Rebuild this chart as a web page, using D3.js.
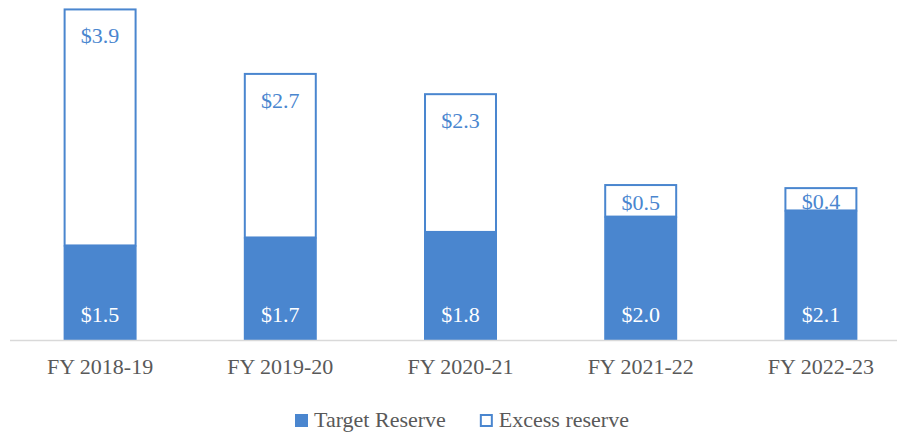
<!DOCTYPE html>
<html>
<head>
<meta charset="utf-8">
<script src="https://cdn.jsdelivr.net/npm/d3@7"></script>
<style>
  body { margin: 0; background: #fff; }
  svg { display: block; }
  text { font-family: "Liberation Serif", "Times New Roman", serif; }
</style>
</head>
<body>
<div id="chart"></div>
<script>
// data, in $ (labels show one decimal)
let categories = ["FY 2018-19", "FY 2019-20", "FY 2020-21", "FY 2021-22", "FY 2022-23"];
let targetReserve = [1.54, 1.67, 1.76, 2.01, 2.11];
let excessReserve = [3.86, 2.68, 2.26, 0.53, 0.38];
let seriesNames = ["Target Reserve", "Excess reserve"];

let width = 900, height = 433;
let blue = "#4a86cf";
let grey = "#595959";
let format = d3.format("$.1f");

let data = categories.map((c, i) => ({name: c, target: targetReserve[i], excess: excessReserve[i]}));

let x = d3.scaleBand()
    .domain(categories)
    .range([10, 911])
    .paddingInner(0.595)
    .paddingOuter(0.2975);

let y = d3.scaleLinear()
    .domain([0, 5.5])
    .range([340, 2.3]);

let svg = d3.select("#chart")
    .append("svg")
    .attr("width", width)
    .attr("height", height);

// excess reserve (outlined)
svg.append("g")
    .selectAll("rect")
    .data(data)
    .join("rect")
    .attr("x", d => x(d.name) + 1)
    .attr("width", x.bandwidth() - 2)
    .attr("y", d => y(d.target + d.excess) + 1)
    .attr("height", d => y(d.target) - y(d.target + d.excess) - 1)
    .attr("fill", "#fff")
    .attr("stroke", blue)
    .attr("stroke-width", 2);

// target reserve (filled)
svg.append("g")
    .selectAll("rect")
    .data(data)
    .join("rect")
    .attr("x", d => x(d.name))
    .attr("width", x.bandwidth())
    .attr("y", d => y(d.target))
    .attr("height", d => y(0) - y(d.target))
    .attr("fill", blue);

// axis
let xAxis = g => g
    .attr("transform", `translate(0,${y(0)})`)
    .call(d3.axisBottom(x).tickSize(0).tickPadding(18))
    .call(g => g.select(".domain").remove())
    .call(g => g.selectAll(".tick text")
        .attr("fill", grey)
        .attr("font-size", 22)
        .attr("font-family", "Liberation Serif, serif"));

svg.append("line")
    .attr("x1", 10)
    .attr("x2", 897)
    .attr("y1", y(0) + 0.5)
    .attr("y2", y(0) + 0.5)
    .attr("stroke", "#d9d9d9")
    .attr("stroke-width", 1.5);

svg.append("g").call(xAxis);

// value labels
svg.append("g")
    .attr("font-size", 22)
    .attr("text-anchor", "middle")
    .selectAll("text")
    .data(data)
    .join("text")
    .attr("x", d => x(d.name) + x.bandwidth() / 2)
    .attr("y", y(0) - 18)
    .attr("fill", "#fff")
    .text(d => format(d.target));

svg.append("g")
    .attr("font-size", 22)
    .attr("text-anchor", "middle")
    .selectAll("text")
    .data(data)
    .join("text")
    .attr("x", d => x(d.name) + x.bandwidth() / 2)
    .attr("y", d => {
        let top = y(d.target + d.excess), bot = y(d.target);
        return Math.min(top + 35, (top + bot) / 2 + 10);
    })
    .attr("fill", blue)
    .text(d => format(d.excess));

// legend
let legend = svg.append("g").attr("transform", "translate(295,414)");
let lx = 0;
seriesNames.forEach((name, i) => {
    legend.append("rect")
        .attr("x", lx + (i ? 1 : 0))
        .attr("y", i ? 1 : 0)
        .attr("width", i ? 11 : 13)
        .attr("height", i ? 11 : 13)
        .attr("fill", i ? "#fff" : blue)
        .attr("stroke", i ? blue : "none")
        .attr("stroke-width", 2);
    let t = legend.append("text")
        .attr("x", lx + 19)
        .attr("y", 13)
        .attr("font-size", 22)
        .attr("fill", grey)
        .text(name);
    lx += 19 + t.node().getComputedTextLength() + 34;
});
</script>
</body>
</html>
